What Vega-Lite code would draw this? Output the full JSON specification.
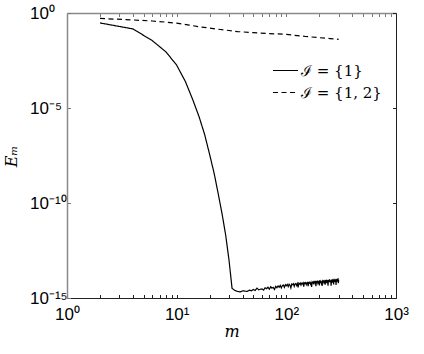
{
  "$schema": "https://vega.github.io/schema/vega-lite/v6.json",
  "autosize": {"type": "none"},
  "width": 329,
  "height": 285,
  "padding": {"left": 67, "top": 13, "right": 28, "bottom": 56},
  "background": "white",
  "config": {"view": {"stroke": null}},
  "datasets": {
    "d": [
      {"m": 2, "E": 0.30, "s": "ℐ = {1}"},
      {"m": 4, "E": 0.145, "s": "ℐ = {1}"},
      {"m": 6, "E": 0.035, "s": "ℐ = {1}"},
      {"m": 8, "E": 0.0089, "s": "ℐ = {1}"},
      {"m": 10, "E": 0.0018, "s": "ℐ = {1}"},
      {"m": 12, "E": 2.5e-4, "s": "ℐ = {1}"},
      {"m": 14, "E": 2.8e-5, "s": "ℐ = {1}"},
      {"m": 16, "E": 3.5e-6, "s": "ℐ = {1}"},
      {"m": 18, "E": 4e-7, "s": "ℐ = {1}"},
      {"m": 20, "E": 3.5e-8, "s": "ℐ = {1}"},
      {"m": 22, "E": 3.5e-9, "s": "ℐ = {1}"},
      {"m": 24, "E": 2.8e-10, "s": "ℐ = {1}"},
      {"m": 26, "E": 2.5e-11, "s": "ℐ = {1}"},
      {"m": 28, "E": 2e-12, "s": "ℐ = {1}"},
      {"m": 30, "E": 1e-13, "s": "ℐ = {1}"},
      {"m": 32, "E": 3.2e-15, "s": "ℐ = {1}"},
      {"m": 34, "E": 2.5e-15, "s": "ℐ = {1}"},
      {"m": 36, "E": 2.2e-15, "s": "ℐ = {1}"},
      {"m": 38, "E": 2.1e-15, "s": "ℐ = {1}"},
      {"m": 40, "E": 2.4e-15, "s": "ℐ = {1}"},
      {"m": 42, "E": 2.3e-15, "s": "ℐ = {1}"},
      {"m": 44, "E": 2.2e-15, "s": "ℐ = {1}"},
      {"m": 46, "E": 2.6e-15, "s": "ℐ = {1}"},
      {"m": 48, "E": 2.4e-15, "s": "ℐ = {1}"},
      {"m": 50, "E": 2.8e-15, "s": "ℐ = {1}"},
      {"m": 52, "E": 2.5e-15, "s": "ℐ = {1}"},
      {"m": 54, "E": 3.3e-15, "s": "ℐ = {1}"},
      {"m": 56, "E": 2.7e-15, "s": "ℐ = {1}"},
      {"m": 58, "E": 2.9e-15, "s": "ℐ = {1}"},
      {"m": 60, "E": 3.0e-15, "s": "ℐ = {1}"},
      {"m": 62, "E": 2.6e-15, "s": "ℐ = {1}"},
      {"m": 64, "E": 3.4e-15, "s": "ℐ = {1}"},
      {"m": 66, "E": 3.1e-15, "s": "ℐ = {1}"},
      {"m": 68, "E": 3.7e-15, "s": "ℐ = {1}"},
      {"m": 70, "E": 2.9e-15, "s": "ℐ = {1}"},
      {"m": 72, "E": 3.9e-15, "s": "ℐ = {1}"},
      {"m": 74, "E": 3.3e-15, "s": "ℐ = {1}"},
      {"m": 76, "E": 3.6e-15, "s": "ℐ = {1}"},
      {"m": 78, "E": 2.8e-15, "s": "ℐ = {1}"},
      {"m": 80, "E": 4.1e-15, "s": "ℐ = {1}"},
      {"m": 82, "E": 3.5e-15, "s": "ℐ = {1}"},
      {"m": 84, "E": 4.3e-15, "s": "ℐ = {1}"},
      {"m": 86, "E": 3.7e-15, "s": "ℐ = {1}"},
      {"m": 88, "E": 4.6e-15, "s": "ℐ = {1}"},
      {"m": 90, "E": 3.4e-15, "s": "ℐ = {1}"},
      {"m": 92, "E": 4.5e-15, "s": "ℐ = {1}"},
      {"m": 94, "E": 4.8e-15, "s": "ℐ = {1}"},
      {"m": 96, "E": 3.6e-15, "s": "ℐ = {1}"},
      {"m": 98, "E": 5.0e-15, "s": "ℐ = {1}"},
      {"m": 100, "E": 4.4e-15, "s": "ℐ = {1}"},
      {"m": 102, "E": 5.2e-15, "s": "ℐ = {1}"},
      {"m": 104, "E": 4.0e-15, "s": "ℐ = {1}"},
      {"m": 106, "E": 5.3e-15, "s": "ℐ = {1}"},
      {"m": 108, "E": 4.7e-15, "s": "ℐ = {1}"},
      {"m": 110, "E": 3.4e-15, "s": "ℐ = {1}"},
      {"m": 112, "E": 5.4e-15, "s": "ℐ = {1}"},
      {"m": 114, "E": 5.0e-15, "s": "ℐ = {1}"},
      {"m": 116, "E": 5.6e-15, "s": "ℐ = {1}"},
      {"m": 118, "E": 4.1e-15, "s": "ℐ = {1}"},
      {"m": 120, "E": 5.5e-15, "s": "ℐ = {1}"},
      {"m": 122, "E": 5.8e-15, "s": "ℐ = {1}"},
      {"m": 124, "E": 4.6e-15, "s": "ℐ = {1}"},
      {"m": 126, "E": 5.7e-15, "s": "ℐ = {1}"},
      {"m": 128, "E": 3.6e-15, "s": "ℐ = {1}"},
      {"m": 130, "E": 6.0e-15, "s": "ℐ = {1}"},
      {"m": 132, "E": 5.4e-15, "s": "ℐ = {1}"},
      {"m": 134, "E": 6.1e-15, "s": "ℐ = {1}"},
      {"m": 136, "E": 4.8e-15, "s": "ℐ = {1}"},
      {"m": 138, "E": 6.0e-15, "s": "ℐ = {1}"},
      {"m": 140, "E": 5.6e-15, "s": "ℐ = {1}"},
      {"m": 142, "E": 6.3e-15, "s": "ℐ = {1}"},
      {"m": 144, "E": 4.0e-15, "s": "ℐ = {1}"},
      {"m": 146, "E": 6.2e-15, "s": "ℐ = {1}"},
      {"m": 148, "E": 5.8e-15, "s": "ℐ = {1}"},
      {"m": 150, "E": 6.4e-15, "s": "ℐ = {1}"},
      {"m": 152, "E": 5.1e-15, "s": "ℐ = {1}"},
      {"m": 154, "E": 6.3e-15, "s": "ℐ = {1}"},
      {"m": 156, "E": 6.6e-15, "s": "ℐ = {1}"},
      {"m": 158, "E": 4.2e-15, "s": "ℐ = {1}"},
      {"m": 160, "E": 6.5e-15, "s": "ℐ = {1}"},
      {"m": 162, "E": 6.1e-15, "s": "ℐ = {1}"},
      {"m": 164, "E": 6.8e-15, "s": "ℐ = {1}"},
      {"m": 166, "E": 5.5e-15, "s": "ℐ = {1}"},
      {"m": 168, "E": 6.7e-15, "s": "ℐ = {1}"},
      {"m": 170, "E": 3.8e-15, "s": "ℐ = {1}"},
      {"m": 172, "E": 7.0e-15, "s": "ℐ = {1}"},
      {"m": 174, "E": 6.4e-15, "s": "ℐ = {1}"},
      {"m": 176, "E": 6.9e-15, "s": "ℐ = {1}"},
      {"m": 178, "E": 5.2e-15, "s": "ℐ = {1}"},
      {"m": 180, "E": 7.2e-15, "s": "ℐ = {1}"},
      {"m": 182, "E": 6.6e-15, "s": "ℐ = {1}"},
      {"m": 184, "E": 7.1e-15, "s": "ℐ = {1}"},
      {"m": 186, "E": 4.2e-15, "s": "ℐ = {1}"},
      {"m": 188, "E": 7.3e-15, "s": "ℐ = {1}"},
      {"m": 190, "E": 6.8e-15, "s": "ℐ = {1}"},
      {"m": 192, "E": 7.4e-15, "s": "ℐ = {1}"},
      {"m": 194, "E": 5.9e-15, "s": "ℐ = {1}"},
      {"m": 196, "E": 7.2e-15, "s": "ℐ = {1}"},
      {"m": 198, "E": 7.6e-15, "s": "ℐ = {1}"},
      {"m": 200, "E": 4.6e-15, "s": "ℐ = {1}"},
      {"m": 202, "E": 7.5e-15, "s": "ℐ = {1}"},
      {"m": 204, "E": 7.0e-15, "s": "ℐ = {1}"},
      {"m": 206, "E": 7.7e-15, "s": "ℐ = {1}"},
      {"m": 208, "E": 6.2e-15, "s": "ℐ = {1}"},
      {"m": 210, "E": 7.6e-15, "s": "ℐ = {1}"},
      {"m": 212, "E": 4.3e-15, "s": "ℐ = {1}"},
      {"m": 214, "E": 7.9e-15, "s": "ℐ = {1}"},
      {"m": 216, "E": 7.3e-15, "s": "ℐ = {1}"},
      {"m": 218, "E": 7.8e-15, "s": "ℐ = {1}"},
      {"m": 220, "E": 6.5e-15, "s": "ℐ = {1}"},
      {"m": 222, "E": 8.0e-15, "s": "ℐ = {1}"},
      {"m": 224, "E": 7.4e-15, "s": "ℐ = {1}"},
      {"m": 226, "E": 5.0e-15, "s": "ℐ = {1}"},
      {"m": 228, "E": 8.1e-15, "s": "ℐ = {1}"},
      {"m": 230, "E": 7.7e-15, "s": "ℐ = {1}"},
      {"m": 232, "E": 8.2e-15, "s": "ℐ = {1}"},
      {"m": 234, "E": 6.0e-15, "s": "ℐ = {1}"},
      {"m": 236, "E": 8.0e-15, "s": "ℐ = {1}"},
      {"m": 238, "E": 8.3e-15, "s": "ℐ = {1}"},
      {"m": 240, "E": 4.5e-15, "s": "ℐ = {1}"},
      {"m": 242, "E": 8.2e-15, "s": "ℐ = {1}"},
      {"m": 244, "E": 7.8e-15, "s": "ℐ = {1}"},
      {"m": 246, "E": 8.4e-15, "s": "ℐ = {1}"},
      {"m": 248, "E": 6.8e-15, "s": "ℐ = {1}"},
      {"m": 250, "E": 8.3e-15, "s": "ℐ = {1}"},
      {"m": 252, "E": 7.5e-15, "s": "ℐ = {1}"},
      {"m": 254, "E": 8.5e-15, "s": "ℐ = {1}"},
      {"m": 256, "E": 4.4e-15, "s": "ℐ = {1}"},
      {"m": 258, "E": 8.4e-15, "s": "ℐ = {1}"},
      {"m": 260, "E": 8.0e-15, "s": "ℐ = {1}"},
      {"m": 262, "E": 8.6e-15, "s": "ℐ = {1}"},
      {"m": 264, "E": 6.4e-15, "s": "ℐ = {1}"},
      {"m": 266, "E": 8.5e-15, "s": "ℐ = {1}"},
      {"m": 268, "E": 8.7e-15, "s": "ℐ = {1}"},
      {"m": 270, "E": 5.2e-15, "s": "ℐ = {1}"},
      {"m": 272, "E": 8.8e-15, "s": "ℐ = {1}"},
      {"m": 274, "E": 8.3e-15, "s": "ℐ = {1}"},
      {"m": 276, "E": 8.9e-15, "s": "ℐ = {1}"},
      {"m": 278, "E": 7.0e-15, "s": "ℐ = {1}"},
      {"m": 280, "E": 8.7e-15, "s": "ℐ = {1}"},
      {"m": 282, "E": 9.0e-15, "s": "ℐ = {1}"},
      {"m": 284, "E": 4.8e-15, "s": "ℐ = {1}"},
      {"m": 286, "E": 8.9e-15, "s": "ℐ = {1}"},
      {"m": 288, "E": 8.5e-15, "s": "ℐ = {1}"},
      {"m": 290, "E": 9.1e-15, "s": "ℐ = {1}"},
      {"m": 292, "E": 7.2e-15, "s": "ℐ = {1}"},
      {"m": 294, "E": 9.0e-15, "s": "ℐ = {1}"},
      {"m": 296, "E": 9.6e-15, "s": "ℐ = {1}"},
      {"m": 298, "E": 6.0e-15, "s": "ℐ = {1}"},
      {"m": 300, "E": 9.3e-15, "s": "ℐ = {1}"},
      {"m": 2, "E": 0.52, "s": "ℐ = {1, 2}"},
      {"m": 4, "E": 0.43, "s": "ℐ = {1, 2}"},
      {"m": 6, "E": 0.38, "s": "ℐ = {1, 2}"},
      {"m": 8, "E": 0.33, "s": "ℐ = {1, 2}"},
      {"m": 10, "E": 0.29, "s": "ℐ = {1, 2}"},
      {"m": 13, "E": 0.23, "s": "ℐ = {1, 2}"},
      {"m": 16, "E": 0.19, "s": "ℐ = {1, 2}"},
      {"m": 20, "E": 0.16, "s": "ℐ = {1, 2}"},
      {"m": 25, "E": 0.135, "s": "ℐ = {1, 2}"},
      {"m": 30, "E": 0.12, "s": "ℐ = {1, 2}"},
      {"m": 36, "E": 0.105, "s": "ℐ = {1, 2}"},
      {"m": 50, "E": 0.093, "s": "ℐ = {1, 2}"},
      {"m": 70, "E": 0.083, "s": "ℐ = {1, 2}"},
      {"m": 100, "E": 0.075, "s": "ℐ = {1, 2}"},
      {"m": 150, "E": 0.058, "s": "ℐ = {1, 2}"},
      {"m": 200, "E": 0.05, "s": "ℐ = {1, 2}"},
      {"m": 250, "E": 0.045, "s": "ℐ = {1, 2}"},
      {"m": 300, "E": 0.041, "s": "ℐ = {1, 2}"}
    ]
  },
  "data": {"name": "d"},
  "resolve": {"axis": {"x": "independent", "y": "independent"}},
  "layer": [
    {
      "mark": {"type": "line", "color": "black", "strokeWidth": 1.2, "clip": true},
      "encoding": {
        "x": {
          "field": "m", "type": "quantitative",
          "scale": {"type": "log", "domain": [1, 1000], "nice": false},
          "axis": {
            "orient": "bottom",
            "values": [1, 2, 3, 4, 5, 6, 7, 8, 9, 10, 20, 30, 40, 50, 60, 70, 80, 90, 100, 200, 300, 400, 500, 600, 700, 800, 900, 1000],
            "labelExpr": "datum.value == 1 ? '10⁰' : datum.value == 10 ? '10¹' : datum.value == 100 ? '10²' : datum.value == 1000 ? '10³' : ''",
            "tickSize": -3.5, "tickColor": "#222", "tickWidth": 1,
            "domainColor": "#222", "domainWidth": 1,
            "grid": false, "labelFlush": false, "labelOverlap": false,
            "labelFont": "Liberation Sans", "labelFontSize": 17, "labelColor": "black",
            "labelPadding": 12, "labelBaseline": "top",
            "title": "m", "titleFont": "DejaVu Serif", "titleFontStyle": "italic",
            "titleFontWeight": "normal", "titleFontSize": 16, "titleColor": "black",
            "titlePadding": 1
          }
        },
        "y": {
          "field": "E", "type": "quantitative",
          "scale": {"type": "log", "domain": [1e-15, 1], "nice": false},
          "axis": {
            "orient": "left",
            "values": [1e-15, 1e-10, 1e-5, 1],
            "labelExpr": "datum.value >= 0.5 ? '10⁰' : datum.value > 1e-7 ? '10⁻⁵' : datum.value > 1e-12 ? '10⁻¹⁰' : '10⁻¹⁵'",
            "tickSize": -3.5, "tickColor": "#777", "tickWidth": 1,
            "domainColor": "#8a8a8a", "domainWidth": 1.5,
            "grid": false, "labelFlush": false, "labelOverlap": false,
            "labelFont": "Liberation Sans", "labelFontSize": 17, "labelColor": "black",
            "labelAlign": "left", "labelBaseline": "middle", "labelPadding": 41,
            "title": "Eₘ", "titleFont": "DejaVu Serif", "titleFontStyle": "italic",
            "titleFontWeight": "normal", "titleFontSize": 16, "titleColor": "black",
            "titleX": -48, "titleY": 143, "titleAngle": -90
          }
        },
        "strokeDash": {
          "field": "s", "type": "nominal",
          "scale": {"domain": ["ℐ = {1}", "ℐ = {1, 2}"], "range": [[1, 0], [5, 3.5]]},
          "legend": {
            "orient": "none", "legendX": 205, "legendY": 44,
            "title": null, "padding": 0,
            "symbolType": "stroke", "symbolSize": 625, "symbolStrokeWidth": 1.2,
            "symbolStrokeColor": "black",
            "labelFont": "DejaVu Serif", "labelFontSize": 15, "labelColor": "black",
            "labelOffset": 2, "rowPadding": 0
          }
        }
      }
    },
    {
      "mark": {"type": "point", "opacity": 0},
      "encoding": {
        "x": {
          "field": "m", "type": "quantitative",
          "axis": {
            "orient": "top",
            "values": [1, 2, 3, 4, 5, 6, 7, 8, 9, 10, 20, 30, 40, 50, 60, 70, 80, 90, 100, 200, 300, 400, 500, 600, 700, 800, 900, 1000],
            "labels": false, "title": null, "grid": false,
            "tickSize": -3.5, "tickColor": "#777", "tickWidth": 1,
            "domainColor": "#8a8a8a", "domainWidth": 1.5
          }
        },
        "y": {
          "field": "E", "type": "quantitative",
          "axis": {
            "orient": "right",
            "values": [1e-15, 1e-10, 1e-5, 1],
            "labels": false, "title": null, "grid": false,
            "tickSize": -3.5, "tickColor": "#222", "tickWidth": 1,
            "domainColor": "#222", "domainWidth": 1
          }
        }
      }
    }
  ]
}
